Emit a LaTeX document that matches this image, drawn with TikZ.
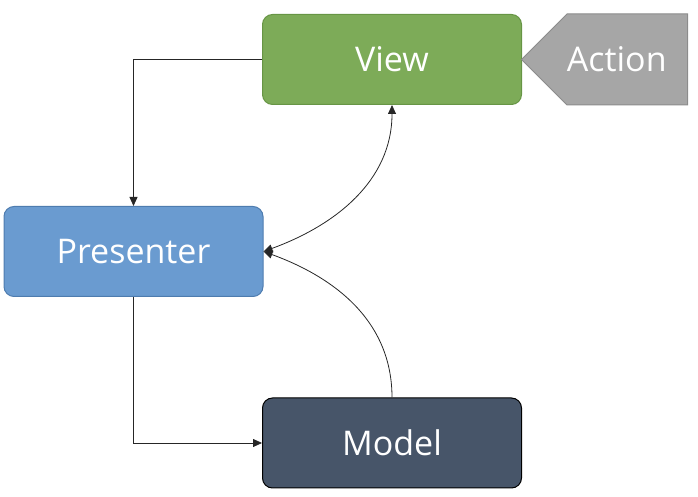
\documentclass[tikz,border=0pt]{standalone}
\usepackage{fontspec}
\setmainfont{Open Sans}
\usepackage{tikz}
\usetikzlibrary{arrows.meta,positioning,shapes.symbols}
\definecolor{viewgreen}{HTML}{7DAB58}
\definecolor{viewedge}{HTML}{679545}
\definecolor{presblue}{HTML}{6A9BD0}
\definecolor{presedge}{HTML}{4E7CAF}
\definecolor{modelslate}{HTML}{475569}
\definecolor{actgray}{HTML}{A6A6A6}
\definecolor{actedge}{HTML}{8C8C8C}

\begin{document}
\begin{tikzpicture}[x=1pt,y=1pt,
  box/.style={rounded corners=10pt,minimum width=259pt,minimum height=90pt,
              line width=1pt,text=white,inner sep=0pt,
              font=\fontsize{34}{40}\selectfont},
  viewbox/.style={box,fill=viewgreen,draw=viewedge},
  presbox/.style={box,fill=presblue,draw=presedge},
  modelbox/.style={box,fill=modelslate,draw=black},
  actbox/.style={shape=signal,signal to=west,signal pointer angle=90,
                 fill=actgray,draw=actedge,line width=1pt,text=white,
                 minimum width=166pt,minimum height=91pt,inner sep=0pt,
                 font=\fontsize{34}{40}\selectfont},
  arr/.style={-{Triangle[length=9pt,width=8pt]},line width=0.8pt,draw=black!85}]

  \useasboundingbox (0,0) rectangle (698,497);

  \node[viewbox]  (view)  at (392,437.5) {View};
  \node[presbox]  (pres)  at (133.5,245.5) {Presenter};
  \node[modelbox] (model) at (392,54) {Model};
  \node[actbox,anchor=east] (act) at (688,437.5) {\hspace*{-21pt}Action};

  \draw[arr] (view.west) -| (pres.north);
  \draw[arr] (pres.south) |- (model.west);
  \draw[arr,{Triangle[length=9pt,width=8pt]}-{Triangle[length=9pt,width=8pt]}]
       (pres.east) to[out=20,in=-90] (view.south);
  \draw[arr] (model.north) to[out=90,in=-20] (pres.east);
\end{tikzpicture}
\end{document}
